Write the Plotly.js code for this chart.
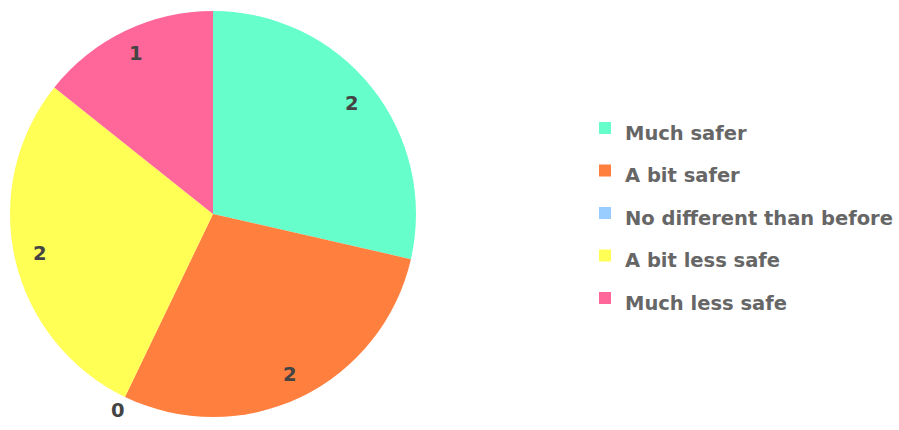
<!DOCTYPE html>
<html>
<head>
<meta charset="utf-8">
<script src="https://cdn.plot.ly/plotly-3.0.1.min.js"></script>
<style>html,body{margin:0;padding:0;background:#fff;}#chart{width:899px;height:430px;}</style>
</head>
<body>
<div id="chart"></div>
<script>
const categories = ["Much safer", "A bit safer", "No different than before", "A bit less safe", "Much less safe"];
const values = [2, 2, 0, 2, 1];
const colors = ["#66FFCC", "#FF7F3F", "#99CCFF", "#FFFF55", "#FF6699"];

const W = 899, H = 430;
const mT = 11, mB = 13;
const plotH = H - mT - mB;
const R = plotH / 2;
const cx = 213;
const domX = [(cx - R) / W, (cx + R) / W];
const FONT = '"DejaVu Sans", Verdana, sans-serif';

// data labels placed along each slice's mid-angle (computed from the values)
const total = values.reduce((a, b) => a + b, 0);
const annotations = [];
let cum = 0;
values.forEach((v) => {
  const mid = (cum + v / 2) / total * 2 * Math.PI;
  cum += v;
  const rr = v > 0 ? 0.875 * R : 1.075 * R;
  const px = cx + rr * Math.sin(mid);
  const py = mT + R - rr * Math.cos(mid);
  annotations.push({
    xref: 'paper', yref: 'paper',
    x: px / W, y: (H - mB - py) / plotH,
    text: '<b>' + v + '</b>', showarrow: false,
    xanchor: 'center', yanchor: 'middle',
    font: {family: FONT, size: 19.5, color: '#444444'}
  });
});

const trace = {
  type: 'pie',
  labels: categories.map(c => '<span style="font-size:19.5px"><b>' + c + '</b></span>'),
  values: values,
  sort: false,
  direction: 'clockwise',
  rotation: 0,
  textinfo: 'none',
  hoverinfo: 'label+value',
  marker: {colors: colors, line: {width: 0}},
  domain: {x: domX, y: [0, 1]}
};

const layout = {
  width: W, height: H,
  margin: {l: 0, r: 0, t: mT, b: mB},
  paper_bgcolor: '#ffffff',
  font: {family: FONT},
  showlegend: true,
  legend: {
    x: 585 / W, y: 0.502, xanchor: 'left', yanchor: 'middle',
    font: {family: FONT, size: 30.4, color: '#666666'},
    bgcolor: 'rgba(0,0,0,0)', borderwidth: 0
  },
  annotations: annotations
};

Plotly.newPlot('chart', [trace], layout, {displayModeBar: false, staticPlot: true});
</script>
</body>
</html>
